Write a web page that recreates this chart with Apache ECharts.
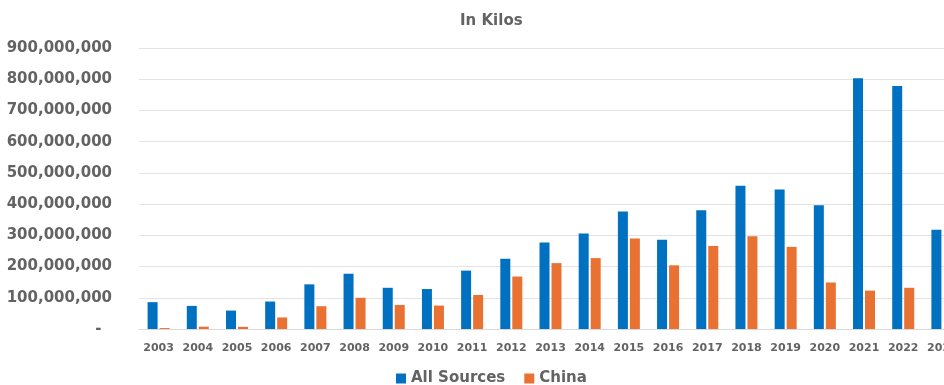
<!DOCTYPE html>
<html>
<head>
<meta charset="utf-8">
<title>In Kilos</title>
<script src="https://cdn.jsdelivr.net/npm/echarts@6/dist/echarts.min.js"></script>
<style>
  html, body { margin: 0; padding: 0; background: #fff; }
  #chart { width: 944px; height: 385px; }
</style>
</head>
<body>
<div id="chart"></div>
<script>
    // data
    var years = ['2003','2004','2005','2006','2007','2008','2009','2010','2011','2012','2013',
                 '2014','2015','2016','2017','2018','2019','2020','2021','2022','2023'];
    var allSources = [86e6, 74e6, 59e6, 88e6, 143e6, 177e6, 132e6, 128e6, 187e6, 225e6, 277e6,
                      306e6, 376e6, 286e6, 380e6, 459e6, 447e6, 396e6, 803e6, 778e6, 318e6];
    var china = [3e6, 7.5e6, 7e6, 37e6, 73e6, 100e6, 77e6, 75e6, 109e6, 168e6, 211e6,
                 227e6, 290e6, 204e6, 266e6, 297e6, 263e6, 149e6, 123e6, 132e6, null];

    var gray = '#636363';
    var font = 'DejaVu Sans';

    var chart = echarts.init(document.getElementById('chart'), null, { renderer: 'canvas' });
    chart.setOption({
        animation: false,
        title: {
            text: 'In Kilos',
            left: 455,
            top: 9,
            textStyle: { color: gray, fontFamily: font, fontSize: 15, fontWeight: 'bold' }
        },
        legend: {
            data: ['All Sources', 'China'],
            top: 366,
            left: 391,
            icon: 'rect',
            itemWidth: 10,
            itemHeight: 10,
            itemGap: 19,
            textStyle: { color: gray, fontFamily: font, fontSize: 15, fontWeight: 'bold' }
        },
        // plot runs past the right edge, 2023 is cut off like in the source
        grid: {
            left: 139,
            width: 823,
            top: 48,
            bottom: 56,
            outerBoundsMode: 'none',
            containLabel: false
        },
        xAxis: {
            type: 'category',
            data: years,
            axisTick: { show: false },
            axisLine: { lineStyle: { color: '#d9d9d9' } },
            axisLabel: {
                color: gray, fontFamily: font, fontSize: 11, fontWeight: 'bold',
                margin: 14, interval: 0
            }
        },
        yAxis: {
            type: 'value',
            min: 0,
            max: 900000000,
            interval: 100000000,
            splitLine: { lineStyle: { color: '#e3e3e3' } },
            axisLine: { show: false },
            axisTick: { show: false },
            axisLabel: {
                color: gray, fontFamily: font, fontSize: 15, fontWeight: 'bold',
                margin: 27,
                formatter: function (v) {
                    if (v === 0) return '-  ';
                    return v.toLocaleString('en-US');
                }
            }
        },
        series: [
            {
                name: 'All Sources',
                type: 'bar',
                data: allSources,
                barWidth: 10,
                barGap: '20%',
                itemStyle: { color: '#0070c0' }
            },
            {
                name: 'China',
                type: 'bar',
                data: china,
                barWidth: 10,
                itemStyle: { color: '#e97132' }
            }
        ]
    });
</script>
</body>
</html>
